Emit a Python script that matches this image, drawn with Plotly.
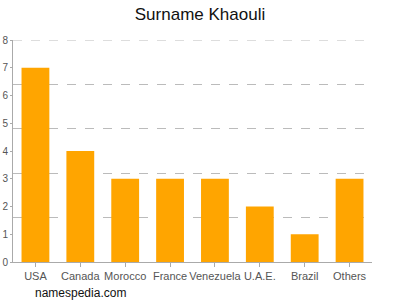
import plotly.graph_objects as go

countries = ["USA", "Canada", "Morocco", "France", "Venezuela", "U.A.E.", "Brazil", "Others"]
counts = [7, 4, 3, 3, 3, 2, 1, 3]
y_ticks = [0, 1, 2, 3, 4, 5, 6, 7, 8]
grid_vals = [1.6, 3.2, 4.8, 6.4, 8]
y_max = 8

fig = go.Figure()
# invisible trace on primary axis hosting the dashed grid
fig.add_trace(go.Scatter(x=countries, y=counts, mode="markers",
                         marker_opacity=0, showlegend=False, hoverinfo="skip"))
fig.add_trace(go.Bar(x=countries, y=counts, yaxis="y2", marker_color="#FFA500", width=0.62,
                     marker_line_width=0, showlegend=False))

fig.add_shape(type="line", xref="paper", yref="y", x0=0, x1=1, y0=y_max, y1=y_max,
              line=dict(color="#bbbbbb", width=1, dash="dash"), layer="below")

fig.update_layout(
    width=400, height=300,
    margin=dict(l=13, r=28, t=40, b=38),
    paper_bgcolor="white", plot_bgcolor="white",
    font=dict(family="Liberation Sans, Arial, sans-serif", color="#555555", size=11),
    title=dict(text="Surname Khaouli", x=0.5, xanchor="center", y=0.952, yanchor="middle",
               font=dict(size=17, color="#111111")),
    xaxis=dict(showline=True, linecolor="#aaaaaa", linewidth=1, ticks="outside",
               ticklen=4, tickcolor="#aaaaaa", showgrid=False, tickangle=0,
               automargin=False, tickfont=dict(size=11, color="#555555")),
    yaxis=dict(range=[0, y_max], tickvals=grid_vals, showticklabels=False, showgrid=True,
               gridcolor="#bbbbbb", griddash="dash", gridwidth=1, zeroline=False,
               showline=False, ticks="", automargin=False),
    yaxis2=dict(range=[0, y_max], overlaying="y", side="left", tickvals=y_ticks,
                showline=True, linecolor="#aaaaaa", linewidth=1, ticks="outside",
                ticklen=2, tickcolor="#aaaaaa", showgrid=False, zeroline=False,
                automargin=False, tickfont=dict(size=10, color="#555555")),
    annotations=[dict(text="namespedia.com", xref="paper", yref="paper", x=0.0, y=-0.1,
                      xanchor="left", yanchor="top", showarrow=False,
                      xshift=20, font=dict(size=12, color="#111111"))],
)
fig.write_html("out.html")
